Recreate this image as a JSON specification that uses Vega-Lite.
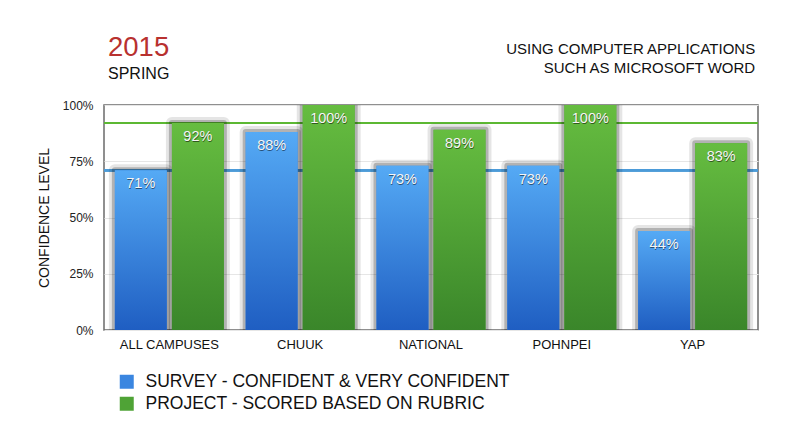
{
  "$schema": "https://vega.github.io/schema/vega-lite/v6.json",
  "width": 654,
  "height": 225,
  "autosize": {"type": "none"},
  "padding": {"left": 104, "top": 105, "right": 49, "bottom": 93},
  "background": "white",
  "config": {
    "font": "Liberation Sans",
    "view": {"stroke": "#6b6b6b", "strokeWidth": 1.5}
  },
  "title": {
    "text": "2015",
    "subtitle": "SPRING",
    "anchor": "start",
    "frame": "group",
    "dx": 4,
    "offset": -40,
    "color": "#b8312f",
    "fontSize": 27.5,
    "fontWeight": "normal",
    "subtitleColor": "#111111",
    "subtitleFontSize": 16,
    "subtitlePadding": 5
  },
  "data": {
    "values": [
      {"campus": "ALL CAMPUSES", "series": "SURVEY - CONFIDENT & VERY CONFIDENT", "value": 0.71},
      {"campus": "ALL CAMPUSES", "series": "PROJECT - SCORED BASED ON RUBRIC", "value": 0.92},
      {"campus": "CHUUK", "series": "SURVEY - CONFIDENT & VERY CONFIDENT", "value": 0.88},
      {"campus": "CHUUK", "series": "PROJECT - SCORED BASED ON RUBRIC", "value": 1.0},
      {"campus": "NATIONAL", "series": "SURVEY - CONFIDENT & VERY CONFIDENT", "value": 0.73},
      {"campus": "NATIONAL", "series": "PROJECT - SCORED BASED ON RUBRIC", "value": 0.89},
      {"campus": "POHNPEI", "series": "SURVEY - CONFIDENT & VERY CONFIDENT", "value": 0.73},
      {"campus": "POHNPEI", "series": "PROJECT - SCORED BASED ON RUBRIC", "value": 1.0},
      {"campus": "YAP", "series": "SURVEY - CONFIDENT & VERY CONFIDENT", "value": 0.44},
      {"campus": "YAP", "series": "PROJECT - SCORED BASED ON RUBRIC", "value": 0.83}
    ]
  },
  "encoding": {
    "x": {
      "field": "campus",
      "type": "nominal",
      "sort": null,
      "scale": {"paddingInner": 0.167, "paddingOuter": 0.083},
      "axis": {
        "title": null,
        "labelAngle": 0,
        "labelFontSize": 13,
        "labelColor": "#111111",
        "labelPadding": 8,
        "ticks": false,
        "domain": false
      }
    },
    "xOffset": {
      "field": "series",
      "type": "nominal",
      "sort": ["SURVEY - CONFIDENT & VERY CONFIDENT", "PROJECT - SCORED BASED ON RUBRIC"],
      "scale": {"paddingInner": 0.09}
    },
    "y": {
      "field": "value",
      "type": "quantitative",
      "scale": {"domain": [0, 1], "nice": false},
      "axis": {
        "title": "CONFIDENCE LEVEL",
        "titleFontSize": 14,
        "titleFontWeight": "normal",
        "titleColor": "#111111",
        "titlePadding": 11,
        "values": [0, 0.25, 0.5, 0.75, 1],
        "format": ".0%",
        "labelFontSize": 12,
        "labelColor": "#222222",
        "labelPadding": 11,
        "ticks": false,
        "domain": false,
        "gridColor": "#e6e6e6"
      }
    }
  },
  "layer": [
    {
      "mark": {"type": "rule", "color": "#5cb833", "strokeWidth": 2},
      "encoding": {"y": {"datum": 0.92}, "x": null, "xOffset": null}
    },
    {
      "mark": {"type": "rule", "color": "#4c9bd8", "strokeWidth": 2},
      "encoding": {"y": {"datum": 0.71}, "x": null, "xOffset": null}
    },
    {
      "mark": {"type": "bar", "fillOpacity": 0, "stroke": "#000000", "strokeOpacity": 0.1, "strokeWidth": 12, "strokeJoin": "round", "clip": true},
      "encoding": {}
    },
    {
      "mark": {"type": "bar", "fillOpacity": 0, "stroke": "#000000", "strokeOpacity": 0.22, "strokeWidth": 6, "strokeJoin": "round", "clip": true},
      "encoding": {}
    },
    {
      "mark": {"type": "bar"},
      "encoding": {
        "color": {
          "field": "series",
          "type": "nominal",
          "scale": {
            "domain": ["SURVEY - CONFIDENT & VERY CONFIDENT", "PROJECT - SCORED BASED ON RUBRIC"],
            "range": ["#3a86e0", "#4fa336"]
          },
          "legend": {
            "title": null,
            "orient": "none",
            "legendX": 14,
            "legendY": 268,
            "symbolType": "square",
            "symbolSize": 196,
            "symbolStrokeWidth": 0,
            "symbolOpacity": 1,
            "labelFontSize": 17.5,
            "labelColor": "#111111",
            "labelOffset": 10,
            "labelLimit": 600,
            "rowPadding": 3
          }
        }
      }
    },
    {
      "transform": [{"filter": "datum.series == 'SURVEY - CONFIDENT & VERY CONFIDENT'"}],
      "mark": {
        "type": "bar",
        "color": {
          "x1": 0, "y1": 0, "x2": 0, "y2": 1,
          "gradient": "linear",
          "stops": [
            {"offset": 0, "color": "#55aaf5"},
            {"offset": 1, "color": "#1f5ec2"}
          ]
        }
      },
      "encoding": {}
    },
    {
      "transform": [{"filter": "datum.series == 'PROJECT - SCORED BASED ON RUBRIC'"}],
      "mark": {
        "type": "bar",
        "color": {
          "x1": 0, "y1": 0, "x2": 0, "y2": 1,
          "gradient": "linear",
          "stops": [
            {"offset": 0, "color": "#66bd40"},
            {"offset": 1, "color": "#3a862a"}
          ]
        }
      },
      "encoding": {}
    },
    {
      "mark": {"type": "text", "baseline": "top", "dy": 8, "dx": 0.5, "color": "#000000", "opacity": 0.5, "fontSize": 14.5},
      "encoding": {"text": {"field": "value", "type": "quantitative", "format": ".0%"}}
    },
    {
      "mark": {"type": "text", "baseline": "top", "dy": 7, "color": "#f6f6f6", "fontSize": 14.5},
      "encoding": {"text": {"field": "value", "type": "quantitative", "format": ".0%"}}
    },
    {
      "transform": [{"filter": "datum.campus == 'YAP' && datum.series == 'PROJECT - SCORED BASED ON RUBRIC'"}],
      "mark": {"type": "text", "align": "right", "baseline": "alphabetic", "fontSize": 15, "color": "#111111", "dx": 8, "lineBreak": "|", "lineHeight": 19},
      "encoding": {
        "text": {"value": "USING COMPUTER APPLICATIONS|SUCH AS MICROSOFT WORD"},
        "x": {"field": "campus", "type": "nominal", "bandPosition": 1},
        "y": {"datum": 1.225},
        "xOffset": null
      }
    }
  ]
}
